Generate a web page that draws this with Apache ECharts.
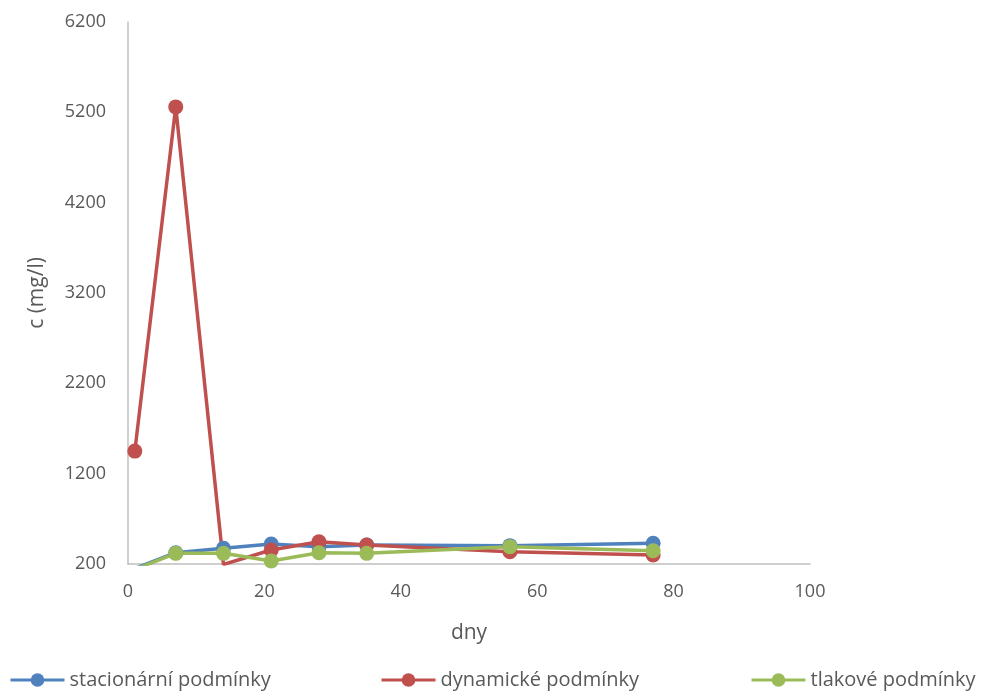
<!DOCTYPE html>
<html><head><meta charset="utf-8">
<script src="https://cdn.jsdelivr.net/npm/echarts@6/dist/echarts.min.js"></script>
<style>html,body{margin:0;padding:0;background:#fff}#c{width:984px;height:691px}</style>
</head><body><div id="c"></div>
<script>
const days = [1, 7, 14, 21, 28, 35, 56, 77];
const seriesNames = ['stacionární podmínky', 'dynamické podmínky', 'tlakové podmínky'];
const stacionarni = [150, 325, 374, 421, 392, 410, 403, 429];
const dynamicke = [1450, 5260, 195, 355, 447, 410, 336, 300];
const tlakove = [140, 318, 318, 233, 325, 318, 392, 347];
const xTicks = [0, 20, 40, 60, 80, 100];
const yTicks = [200, 1200, 2200, 3200, 4200, 5200, 6200];
const colors = ['#4F81BD', '#C0504D', '#9BBB59'];
const values = [stacionarni, dynamicke, tlakove];

const font = '"Open Sans", sans-serif';
const chart = echarts.init(document.getElementById('c'));
const legendLefts = [9, 380, 750];
chart.setOption({
  animation: false,
  grid: {left: 128, right: 174, top: 22, bottom: 127},
  xAxis: {
    type: 'value', min: xTicks[0], max: xTicks[xTicks.length-1], interval: 20,
    name: 'dny', nameLocation: 'middle', nameGap: 59,
    nameTextStyle: {fontFamily: font, fontSize: 21, color: '#595959'},
    axisLine: {lineStyle: {color: '#BFBFBF', width: 1.5}},
    axisTick: {show: false},
    splitLine: {show: false},
    axisLabel: {fontFamily: font, fontSize: 18, color: '#595959', margin: 19, formatter: v => String(v)}
  },
  yAxis: {
    type: 'value', min: yTicks[0], max: yTicks[yTicks.length-1], interval: 1000,
    name: 'c (mg/l)', nameLocation: 'middle', nameGap: 80, nameRotate: 90,
    nameTextStyle: {fontFamily: font, fontSize: 21, color: '#595959'},
    axisLine: {show: true, lineStyle: {color: '#BFBFBF', width: 1.5}},
    axisTick: {show: false},
    splitLine: {show: false},
    axisLabel: {fontFamily: font, fontSize: 18, color: '#595959', margin: 22, formatter: v => String(v)}
  },
  legend: seriesNames.map((n, i) => ({
    data: [n], left: legendLefts[i], top: 670, padding: 0,
    itemWidth: 54, itemHeight: 17, itemGap: 4,
    lineStyle: {width: 3},
    textStyle: {fontFamily: font, fontSize: 20, color: '#595959'}
  })),
  series: seriesNames.map((n, i) => ({
    name: n, type: 'line', clip: true,
    data: days.map((d, j) => [d, values[i][j]]),
    color: colors[i],
    symbol: 'circle', symbolSize: 15,
    lineStyle: {width: 3.5, color: colors[i]},
    itemStyle: {color: colors[i]}
  }))
});
</script></body></html>
